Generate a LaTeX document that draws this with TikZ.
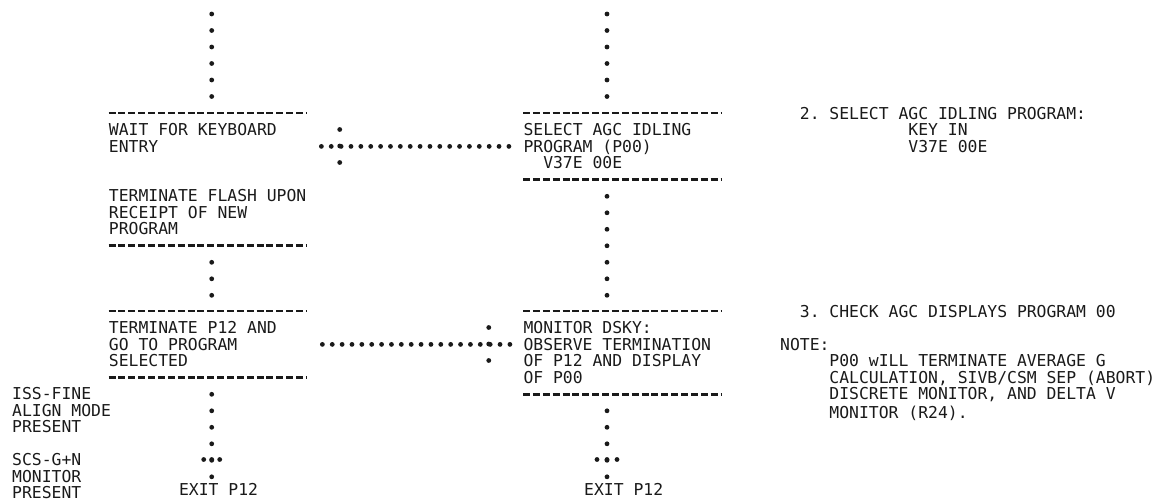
\documentclass[tikz,border=0pt]{standalone}
\usepackage{fontspec}
\newfontfamily\lpfont{DejaVu Sans Mono}
\usepackage{tikz}
\usetikzlibrary{calc,positioning}
\definecolor{colorink}{HTML}{1A1A1A}
\newcommand\rowstrut{\rule[-1.135pt]{0pt}{8.25pt}}
\newcommand\lpspace{\frenchspacing\spaceskip=0.60205em\relax}
\newcommand\indentc[1]{\hspace*{#1\dimexpr0.60205em\relax}}
\tikzset{
  prt/.style={inner sep=0pt, anchor=north west, text=colorink,
    font=\lpfont\fontsize{8.197pt}{8.25pt}\selectfont,
    execute at begin node={\lpspace\rowstrut}, execute at end node=\rowstrut},
  prtblock/.style={prt, text width=#1},
  procbox/.style={prtblock=99pt, inner ysep=4.125pt},
  rulerow/.style={colorink, line width=1.4pt, dash pattern=on 3.5pt off 1.435pt},
  dotcol/.style={colorink, line width=2.4pt, line cap=round, dash pattern=on 0pt off 8.25pt},
  dotrow/.style={colorink, line width=2.4pt, line cap=round, dash pattern=on 0pt off 4.935pt},
  forkdots/.style={colorink, line width=2.4pt, line cap=round, dash pattern=on 0pt off #1}
}

\begin{document}
\begin{tikzpicture}[x=4.935pt, y=-8.25pt]
\useasboundingbox (0,-0.848) rectangle (117.02,29.515);

\coordinate (ltop) at (21.45,0);
\coordinate (mtop) at (61.5,0);

\node[procbox] (wait) at (11,6)
{WAIT FOR KEYBOARD\\ENTRY\\\mbox{}\\\mbox{}\\TERMINATE FLASH UPON\\RECEIPT OF NEW\\PROGRAM};

\node[procbox] (term) at (11,18)
{TERMINATE P12 AND\\GO TO PROGRAM\\SELECTED};

\node[procbox] (sel) at (53,6)
{SELECT AGC IDLING\\PROGRAM (P00)\\\indentc{2}V37E 00E};

\node[procbox] (mon) at (53,18)
{MONITOR DSKY:\\OBSERVE TERMINATION\\OF P12 AND DISPLAY\\OF P00};

\node[prt] (lexit) at (18.1,28.3) {EXIT P12};
\node[prt] (mexit) at (59.15,28.3) {EXIT P12};

\node[prtblock=60pt] (iss) at (1.2,22.5) {ISS-FINE\\ALIGN MODE\\PRESENT};
\node[prtblock=60pt] (scs) at (1.2,26.5) {SCS-G+N\\MONITOR\\PRESENT};

\node[prtblock=160pt] (keyin) at (81,5.5)
{2. SELECT AGC IDLING PROGRAM:\\\indentc{11}KEY IN\\\indentc{11}V37E 00E};

\node[prt] (check) at (81,17.5) {3. CHECK AGC DISPLAYS PROGRAM 00};

\node[prtblock=189pt] (note) at (79,19.5)
{NOTE:\\\indentc{5}P00 wILL TERMINATE AVERAGE G\\\indentc{5}CALCULATION, SIVB/CSM SEP (ABORT)\\\indentc{5}DISCRETE MONITOR, AND DELTA V\\\indentc{5}MONITOR (R24).};

\foreach \b in {wait,sel,term,mon}{
  \draw[rulerow] (\b.north west) -- (\b.north east);
  \draw[rulerow] (\b.south west) -- (\b.south east);
}

\draw[dotcol, shorten >=2pt] (ltop) -- (ltop |- wait.north);
\draw[dotcol, shorten <=8.25pt, shorten >=2pt] (ltop |- wait.south) -- (ltop |- term.north);
\draw[dotcol, shorten <=8.25pt] (ltop |- term.south) -- (ltop |- lexit.north);

\draw[dotcol, shorten >=2pt] (mtop) -- (mtop |- sel.north);
\draw[dotcol, shorten <=8.25pt, shorten >=2pt] (mtop |- sel.south) -- (mtop |- mon.north);
\draw[dotcol, shorten <=8.25pt] (mtop |- mon.south) -- (mtop |- mexit.north);

\coordinate (lfork) at (21.45,27);
\coordinate (mfork) at (61.5,27);
\draw[forkdots=4pt] ([xshift=-4pt]lfork) -- ([xshift=4.2pt]lfork);
\draw[forkdots=5pt] ([xshift=-5pt]mfork) -- ([xshift=5.2pt]mfork);

\draw[dotrow, shorten <=7pt, shorten >=6.2pt] (wait.east |- sel.west) -- (sel.west);
\coordinate (xa) at (34.42,7);
\coordinate (xb) at (34.42,9.1);
\draw[dotcol] (xa) -- (xb);

\draw[dotrow, shorten <=7.5pt, shorten >=6.2pt] (term.east) -- (mon.west |- term.east);
\coordinate (xc) at (49.52,19);
\coordinate (xd) at (49.52,21.1);
\draw[dotcol] (xc) -- (xd);
\end{tikzpicture}
\end{document}
